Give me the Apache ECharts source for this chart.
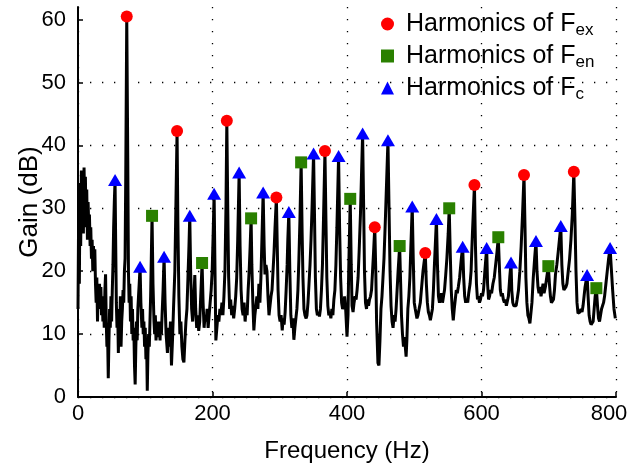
<!DOCTYPE html>
<html>
<head>
<meta charset="utf-8">
<title>Gain spectrum</title>
<script src="https://cdn.jsdelivr.net/npm/echarts@6/dist/echarts.min.js"></script>
<style>
  html, body { margin: 0; padding: 0; background: #fff; overflow: hidden; }
  /* 画布比窗口略宽，让 800 标签不被判定为越界 */
  #container { width: 660px; height: 473px; }
</style>
</head>
<body>
<div id="container"></div>
<script>
// 频谱曲线 [频率 Hz, 增益 dB]
const spectrum = [
  [0, 14], [1, 30], [2, 18], [3, 34], [4, 24], [5, 36], [6, 28], [7, 35], [8, 26], [9, 36.5],
  [10, 30], [11, 35], [12, 27], [13, 33], [14, 25], [15, 31], [16, 27], [17, 29], [18, 24], [19, 27],
  [20, 22], [21, 25], [22, 20], [23, 24], [24, 21], [25, 23.5], [26, 18], [27, 15], [28, 19], [29, 12],
  [30, 17], [31, 16], [32, 18], [33, 14], [34, 17.5], [35, 13], [36, 16], [37, 12], [38, 15.5], [39, 11],
  [40, 17], [41, 19.5], [42, 12], [43, 8], [44, 10], [45, 3], [46, 9], [47, 14], [48, 11], [49, 16],
  [50, 12], [51, 17], [52, 21], [53, 27], [54, 31], [55.1, 34.5], [56, 25], [57, 15], [58, 11], [59, 14],
  [60, 7], [61, 13], [62, 10], [63, 16], [64, 8], [65, 12], [66, 14], [67, 17], [68, 15], [69, 20],
  [70, 22], [71, 35], [72.5, 60.5], [74, 38], [75, 20], [76, 15], [77, 18], [78, 12], [79, 16],
  [80, 10], [81, 14], [82, 9], [83, 11], [84, 5], [85, 2], [86, 8], [87, 12], [88, 9], [89, 14],
  [90, 16], [91, 18], [92.3, 20.7], [93.5, 15], [95, 11], [96, 14], [97, 10], [98, 12], [99, 8],
  [100, 11], [101, 6], [102, 9], [103, 1], [104, 7], [105, 10], [106, 8], [107, 12], [108, 16], [109, 22],
  [110.1, 28.8], [111.5, 18], [113, 12], [114, 10], [115, 13], [116, 9], [117, 11], [118, 9.5], [119, 12],
  [120, 10], [121, 11], [122, 9], [123, 12], [124, 10], [125, 13], [126.5, 17], [128, 22.3], [129.5, 15],
  [131, 10], [133, 7], [134.5, 11], [136, 8], [137.5, 12], [139, 5], [140.5, 9], [142, 14], [144, 20],
  [145.5, 30], [147.3, 42.3], [148.5, 28], [150, 16], [151.5, 10], [153, 12], [154.5, 8], [156, 6],
  [157.5, 5.5], [159, 9], [160.5, 12], [162, 14], [163.5, 19], [165, 24], [166.2, 28.8], [167.5, 20],
  [169, 14], [170.5, 12], [172, 15], [173.7, 19.4], [175, 14], [176.5, 11], [178, 13], [179.5, 10.5],
  [181, 12], [182.5, 16], [184.5, 21.3], [186, 15], [187.5, 11], [189, 13], [190.5, 12], [192, 14],
  [193.5, 11], [195, 13], [196.5, 15], [198, 17], [199.5, 20], [201, 26], [202.4, 32.3], [203.5, 22],
  [205, 9], [206.5, 11], [208, 13], [209.5, 12], [211, 14], [212.5, 13], [214, 15], [215.5, 13],
  [217, 16], [218.5, 20], [220, 30], [221.3, 43.9], [222.7, 30], [224, 19], [225.5, 14], [227, 15.5],
  [228.5, 13], [230, 14.5], [231.5, 12.5], [233, 14], [234.5, 16], [236, 19], [237.5, 25], [239.6, 35.7],
  [241, 24], [242.5, 17], [244, 14], [245.5, 13], [247, 15], [248.5, 12], [250, 14], [251.5, 13],
  [253, 17], [254.5, 20], [256, 24], [257.4, 28.4], [258.5, 21],
  [260, 15], [261.5, 10.6], [263, 13], [264.5, 14.5], [266, 16], [267.5, 14], [269, 18], [270.5, 15],
  [272, 19], [273.5, 25], [275.3, 32.5], [276.8, 24], [278, 19.5], [279.5, 21], [281, 20], [282.5, 16],
  [284, 13], [285.5, 14.5], [287, 16], [288.5, 17], [290, 20], [291.5, 23], [293, 27], [295, 31.7],
  [296.3, 24], [297.5, 17], [299, 13], [300.5, 12], [302, 13], [303.7, 10.6], [305, 12.5], [306.5, 11.5],
  [308, 13.5], [309.5, 17], [311, 21], [312, 25], [313.5, 29.4], [315, 20], [316.5, 13], [318, 11],
  [319.5, 12.5], [321, 9.1], [322.5, 11], [324, 12.5], [325.5, 14], [327, 17], [328.5, 22], [330, 28],
  [331.8, 37.3], [333.3, 26], [334.5, 19], [336, 14], [337.5, 13], [339.2, 12.5], [340.5, 13], [342, 15],
  [343.5, 18], [345, 21], [346.5, 25], [348, 30], [350.3, 38.7], [351.8, 28], [353, 19], [354.5, 14],
  [356, 13], [357.5, 13.5], [359, 12.8], [360.5, 14], [362, 17], [363.5, 21], [365, 28], [367.2, 39.1],
  [368.7, 28], [370, 19], [371.5, 14.5], [373, 13], [374.5, 13.5],
  [376, 12.5], [377.5, 14], [379, 13], [380.5, 15.5], [382, 17], [383.5, 21], [385, 27], [387.5, 38.3],
  [389, 27], [390.5, 19], [392, 15], [393.5, 14], [395, 14.5], [396.5, 16], [398, 14], [400, 9.6],
  [401.5, 13], [402.5, 20], [404.8, 31.5], [406.3, 21], [407.5, 14.5], [409, 13.5], [410.5, 15], [412, 16],
  [413.5, 15.5], [415, 17], [416.5, 19], [418, 23], [420, 29], [423.2, 41.9], [424.8, 30], [426, 20],
  [427.5, 15], [429, 14], [430.5, 15.5], [432, 14.5], [433.5, 15.5], [435, 16], [436.5, 17], [438, 20],
  [439.5, 23], [441.3, 27], [442.8, 20], [444, 12], [446, 5.4], [447.5, 5], [449, 9], [450.5, 14],
  [452, 16], [453.5, 19], [455, 22], [457, 28], [460.9, 40.8], [462.5, 30], [464, 20], [465.5, 14.5],
  [467, 12], [468.5, 11], [470, 13], [471.5, 12], [473, 14], [474.5, 17], [476, 20], [478.3, 24],
  [479.8, 18], [481, 13], [482.5, 10], [484, 8], [485.5, 9.5], [487.9, 6.4], [489, 9], [490.5, 14],
  [492, 16], [493.5, 19], [495, 24], [497, 30.3], [498.5, 22], [500, 15],
  [501.5, 14], [504, 12.5], [505.5, 13], [507, 12.7], [509, 15], [511, 17.5], [513, 20], [516.4, 22.9],
  [518, 18], [519.5, 15], [521, 13.5], [522.5, 13], [524, 12.2], [525.6, 12], [527, 14], [528.5, 17],
  [530, 21], [533, 28.3], [534.5, 21], [536, 16], [537.5, 15], [539, 15.5], [540.5, 16.5], [542, 15],
  [543.5, 16], [545, 17], [546.5, 19], [548.5, 22], [550.5, 26], [552, 30], [553.5, 23], [555, 17],
  [556.5, 14], [558, 12.2], [559.5, 14], [561, 15.5], [562.5, 17], [564, 16.5], [565.5, 17.5], [567.5, 19],
  [570, 22], [572, 23.9], [573.5, 19], [575, 16], [576.5, 15], [578, 15.5], [579.5, 15], [581, 16.5],
  [583, 18], [584.5, 20], [586.5, 26], [589.5, 33.7], [591, 24], [592.5, 18], [594, 15.5], [595.5, 16],
  [597, 15], [598.5, 15.5], [600, 16.5], [601.5, 16], [603, 17], [605, 20], [607.7, 23.7], [609, 18],
  [610.5, 15.5], [612, 16], [613.5, 17], [615, 16.5], [617, 18], [619, 19], [621, 21], [623, 23],
  [625, 25.4], [626.5, 21], [628, 17], [629.5, 16], [631, 16.5], [632.5, 15.5], [634, 15], [635.5, 15.5],
  [637, 14.5], [638.5, 14.3], [640, 16], [642, 19], [643.9, 21.4],
  [645, 17], [646.5, 15], [648, 14.5], [649.9, 14.8], [651.5, 14.5], [653, 15.5], [655, 17], [657, 20],
  [659, 24], [661, 29], [663.2, 35.3], [664.7, 27], [666, 19], [667.5, 15], [669, 13], [670.5, 12.5],
  [672, 11.7], [673.5, 12], [675, 15], [677, 19], [679, 22], [681, 24.8], [682.5, 20], [684, 17.5],
  [685.5, 16.5], [687, 17.5], [688.5, 16], [690, 17], [691.5, 18], [693, 16.5], [695, 17.5], [697, 19],
  [699.4, 20.8], [701, 18], [702.5, 16], [704, 15], [705.5, 14.8], [707, 15.5], [708.5, 17], [710, 19.5],
  [712, 21], [714, 23], [717.9, 27.2], [719.5, 21], [721, 18], [722.5, 17], [724, 16.8], [725.5, 17.5],
  [727, 18], [729, 20], [731, 22], [733, 25], [735, 29], [737.3, 35.8], [739, 28], [740.5, 20],
  [742, 15], [743.5, 13.3], [745, 13], [746.5, 13.5], [748, 14], [749.5, 13.5], [751, 14.5], [752.5, 16],
  [754, 17.5], [757, 19.4], [758.5, 16], [760, 13], [761.5, 12], [763, 11.5], [764.5, 11.7], [766, 12],
  [767.5, 14], [769, 16], [770.8, 17.3], [772.5, 14.5], [774, 12.5], [775.5, 12], [777, 13], [778.5, 14],
  [780, 14.5], [781.5, 15], [783, 16], [785, 18], [787, 20], [789, 22], [791.2, 23.7], [793, 20.5],
  [795, 17], [797, 14], [799, 12.5], [800, 12.5]
]

// 各组谐波峰值 [频率, 增益]
const fexPeaks = [[72.5, 60.5], [147.3, 42.3], [221.3, 43.9], [295, 31.7], [367.2, 39.1],
  [441.3, 27], [516.4, 22.9], [589.5, 33.7], [663.2, 35.3], [737.3, 35.8]]
const fenPeaks = [[110.1, 28.8], [184.5, 21.3], [257.4, 28.4], [331.8, 37.3], [404.8, 31.5],
  [478.3, 24], [552, 30], [625, 25.4], [699.4, 20.8], [770.8, 17.3]]
const fcPeaks = [[55.1, 34.5], [92.3, 20.7], [128, 22.3], [166.2, 28.8], [202.4, 32.3], [239.6, 35.7],
  [275.3, 32.5], [313.5, 29.4], [350.3, 38.7], [387.5, 38.3], [423.2, 41.9], [460.9, 40.8], [497, 30.3],
  [533, 28.3], [572, 23.9], [607.7, 23.7], [643.9, 21.4], [681, 24.8], [717.9, 27.2], [757, 19.4],
  [791.2, 23.7]]

// 坐标轴刻度
const xTicks = [0, 200, 400, 600, 800]
const yTicks = [0, 10, 20, 30, 40, 50, 60]

const font = 'Liberation Sans'
const dotted = { color: '#000', width: 1.3, type: [1.3, 10.7] }

const option = {
  animation: false,
  grid: { left: 78, right: 44, top: 7, bottom: 76, containLabel: false, outerBoundsMode: 'none' },
  legend: {
    orient: 'vertical',
    left: 376,
    top: 4,
    itemWidth: 13,
    itemHeight: 13,
    itemGap: 2,
    selectedMode: false,
    data: [
      { name: 'ex', icon: 'circle' },
      { name: 'en', icon: 'rect' },
      { name: 'c', icon: 'triangle' }
    ],
    formatter: name => 'Harmonics of F{s|' + name + '}',
    textStyle: {
      fontFamily: font,
      fontSize: 25,
      color: '#000',
      lineHeight: 30,
      padding: [0, 0, 0, 7],
      rich: {
        s: { fontFamily: font, fontSize: 17, color: '#000', verticalAlign: 'bottom', padding: [14, 0, 0, 0] }
      }
    }
  },
  xAxis: {
    type: 'value',
    min: xTicks[0],
    max: xTicks[xTicks.length - 1],
    interval: xTicks[1] - xTicks[0],
    name: 'Frequency (Hz)',
    nameLocation: 'middle',
    nameGap: 42,
    nameMoveOverlap: false,
    nameTextStyle: { fontFamily: font, fontSize: 24, color: '#000' },
    axisLine: { lineStyle: { color: '#000', width: 2 } },
    axisTick: { inside: true, length: 5, lineStyle: { color: '#000', width: 1.5 } },
    axisLabel: {
      fontFamily: font,
      fontSize: 22,
      color: '#000',
      margin: 6,
      showMaxLabel: true,
      // 最右侧标签略向左偏，和原图一致
      formatter: v => v === xTicks[xTicks.length - 1] ? '{m|' + v + '}' : String(v),
      rich: { m: { fontFamily: font, fontSize: 22, color: '#000', padding: [0, 14, 0, 0] } }
    },
    splitLine: { show: true, lineStyle: dotted }
  },
  yAxis: {
    type: 'value',
    min: 0,
    max: 62,
    interval: 10,
    name: 'Gain (dB)',
    nameLocation: 'middle',
    nameGap: 35,
    nameMoveOverlap: false,
    nameTextStyle: { fontFamily: font, fontSize: 26, color: '#000' },
    axisLine: { show: true, lineStyle: { color: '#000', width: 2 } },
    axisTick: { show: true, inside: true, length: 5, lineStyle: { color: '#000', width: 1.5 }, customValues: yTicks },
    axisLabel: { fontFamily: font, fontSize: 22, color: '#000', margin: 12, customValues: yTicks },
    splitLine: { show: true, showMaxLine: false, lineStyle: dotted }
  },
  series: [
    {
      name: 'spectrum',
      type: 'line',
      data: spectrum,
      showSymbol: false,
      symbol: 'none',
      lineStyle: { color: '#000', width: 3 },
      z: 2
    },
    {
      name: 'ex',
      type: 'scatter',
      data: fexPeaks,
      symbol: 'circle',
      symbolSize: 12,
      itemStyle: { color: '#ff0000', opacity: 1 },
      z: 3
    },
    {
      name: 'en',
      type: 'scatter',
      data: fenPeaks,
      symbol: 'rect',
      symbolSize: 12,
      itemStyle: { color: '#2a8000', opacity: 1 },
      z: 3
    },
    {
      name: 'c',
      type: 'scatter',
      data: fcPeaks,
      symbol: 'triangle',
      symbolSize: [14, 12],
      itemStyle: { color: '#0000ff', opacity: 1 },
      z: 3
    }
  ]
}

let myChart = echarts.init(document.getElementById('container'))
myChart.setOption(option)
</script>
</body>
</html>
